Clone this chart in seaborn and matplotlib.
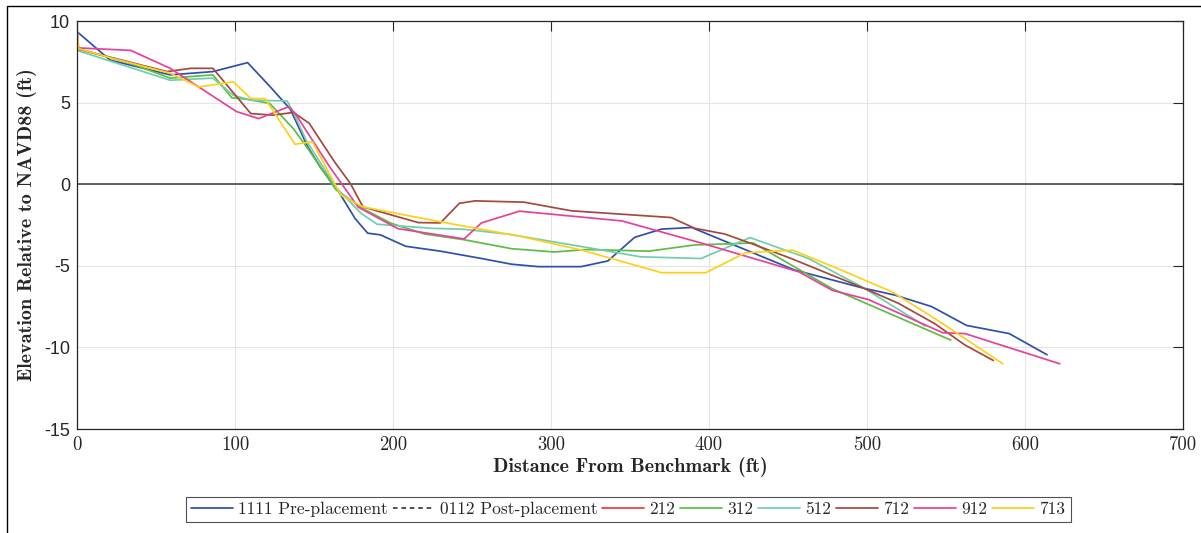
import numpy as np
import pandas as pd
import matplotlib
matplotlib.use("Agg")
import matplotlib.pyplot as plt
from matplotlib.lines import Line2D
from matplotlib.patches import Rectangle
import seaborn as sns

# --- beach profile surveys: distance from benchmark (ft) vs elevation (ft, NAVD88) ---
dist_1111 = [0, 21, 59, 86, 108, 122, 135, 146, 154, 164, 176, 184, 192, 208, 230, 256, 275, 292, 319,
             336, 353, 370, 389, 454, 497, 518, 541, 563, 590, 614]
elev_1111 = [9.35, 7.6, 6.7, 6.9, 7.45, 6.0, 4.6, 2.3, 1.05, -0.2, -2.1, -3.0, -3.1, -3.8, -4.1, -4.55, -4.9, -5.05, -5.05,
             -4.7, -3.25, -2.75, -2.65, -5.25, -6.35, -6.8, -7.5, -8.65, -9.15, -10.45]

dist_312 = [0, 34, 59, 86, 98, 108, 122, 137, 146, 164, 181, 199, 220, 245, 275, 302, 323, 362, 391, 428, 478, 553]
elev_312 = [8.3, 7.4, 6.5, 6.7, 5.3, 5.2, 4.95, 3.4, 2.2, -0.35, -1.5, -2.4, -3.05, -3.4, -3.95, -4.15, -4.0, -4.1,
            -3.72, -3.6, -6.4, -9.55]

dist_512 = [0, 59, 86, 99, 110, 133, 137, 145, 164, 180, 190, 224, 245, 273, 323, 357, 395, 426, 463, 497, 537]
elev_512 = [8.2, 6.37, 6.5, 5.45, 5.15, 5.1, 4.4, 2.7, -0.2, -1.8, -2.45, -2.7, -2.76, -3.06, -3.88, -4.45, -4.55,
            -3.27, -4.55, -6.3, -8.7]

dist_712 = [0, 57, 72, 86, 110, 124, 137, 147, 163, 173, 181, 216, 230, 242, 252, 283, 313, 376, 391, 410, 427,
            452, 497, 520, 543, 562, 580]
elev_712 = [8.3, 6.9, 7.1, 7.1, 4.33, 4.23, 4.4, 3.73, 1.37, 0.05, -1.39, -2.35, -2.37, -1.17, -1.02, -1.1, -1.63,
            -2.04, -2.7, -3.05, -3.64, -4.55, -6.33, -7.3, -8.55, -9.85, -10.8]

dist_912 = [0, 1, 34, 59, 101, 115, 134, 138, 160, 178, 203, 245, 256, 280, 345, 395, 457, 478, 501, 548, 562, 622]
elev_912 = [9.5, 8.35, 8.2, 7.1, 4.45, 4.02, 4.75, 4.35, 1.05, -1.4, -2.72, -3.35, -2.37, -1.65, -2.25, -3.6, -5.37,
            -6.5, -7.07, -9.1, -9.15, -11.0]

dist_713 = [0, 1, 23, 59, 77, 99, 110, 119, 138, 149, 167, 181, 230, 281, 320, 370, 398, 423, 453, 484, 516, 543, 586]
elev_713 = [9.6, 8.3, 7.7, 6.8, 5.96, 6.27, 5.25, 5.25, 2.45, 2.6, -0.67, -1.39, -2.3, -3.2, -4.05, -5.42, -5.42,
            -4.2, -4.04, -5.27, -6.6, -8.23, -11.0]

legend_labels = ["1111 Pre-placement", "0112 Post-placement", "212", "312", "512", "712", "912", "713"]
x_ticks = [0, 100, 200, 300, 400, 500, 600, 700]
y_ticks = [-15, -10, -5, 0, 5, 10]

colors = {
    "1111 Pre-placement": "#2f4fb0",
    "0112 Post-placement": "#222222",
    "212": "#f03a3a",
    "312": "#5cbd45",
    "512": "#6fcfac",
    "712": "#a5483e",
    "912": "#e8409a",
    "713": "#ffd01a",
}

surveys = [
    ("1111 Pre-placement", dist_1111, elev_1111),
    ("312", dist_312, elev_312),
    ("512", dist_512, elev_512),
    ("712", dist_712, elev_712),
    ("912", dist_912, elev_912),
    ("713", dist_713, elev_713),
]
df = pd.concat([pd.DataFrame({"dist": d, "elev": e, "survey": name}) for name, d, e in surveys],
               ignore_index=True)

sns.set_style("white")
plt.rcParams["axes.unicode_minus"] = False

fig = plt.figure(figsize=(12.01, 5.33), dpi=100)
ax = fig.add_axes([0.0641, 0.195, 0.9209, 0.7656])

ax.axhline(0, color="#3a3a3a", lw=1.1, zorder=1.5)
sns.lineplot(data=df, x="dist", y="elev", hue="survey", hue_order=[s[0] for s in surveys],
             palette=colors, estimator=None, sort=False, linewidth=1.25, legend=False, ax=ax)

ax.set_xlim(0, 700)
ax.set_ylim(-15, 10)
ax.set_xticks(x_ticks)
ax.set_xticklabels([str(t) for t in x_ticks], fontfamily="cmr10", fontsize=13.5)
ax.set_yticks(y_ticks)
ax.set_yticklabels([str(t) for t in y_ticks], fontfamily="Liberation Sans", fontsize=13)
ax.grid(True, color="#e4e4e4", lw=0.8)
ax.tick_params(direction="in", length=7, width=0.8, top=True, right=True, colors="#262626", pad=5)
for sp in ax.spines.values():
    sp.set_color("#262626")
    sp.set_linewidth(0.9)

ax.set_xlabel("Distance From Benchmark (ft)", fontfamily="cmb10", fontsize=14.5, labelpad=2)
ax.set_ylabel("Elevation Relative to NAVD88 (ft)", fontfamily="cmb10", fontsize=14.5)
ax.yaxis.set_label_coords(-0.036, 0.5)

handles = []
for n in legend_labels:
    if n.startswith("0112"):
        handles.append(Line2D([], [], color=colors[n], lw=1.1, ls=(0, (3, 2.5))))
    else:
        handles.append(Line2D([], [], color=colors[n], lw=1.25))
leg = fig.legend(handles, legend_labels, loc="center", bbox_to_anchor=(0.523, 0.044), ncol=8,
                 prop={"family": "cmr10", "size": 12.5}, frameon=True, fancybox=False,
                 handlelength=2.4, handletextpad=0.3, columnspacing=0.3, borderpad=0.3)
leg.get_frame().set_edgecolor("#262626")
leg.get_frame().set_linewidth(0.8)

# outer frame of the figure
fig.patches.append(Rectangle((0.0058, -0.5), 1.5, 0.9887 + 0.5, transform=fig.transFigure,
                             fill=False, edgecolor="black", lw=1.0, clip_on=False))

fig.savefig("out.png", dpi=100)
